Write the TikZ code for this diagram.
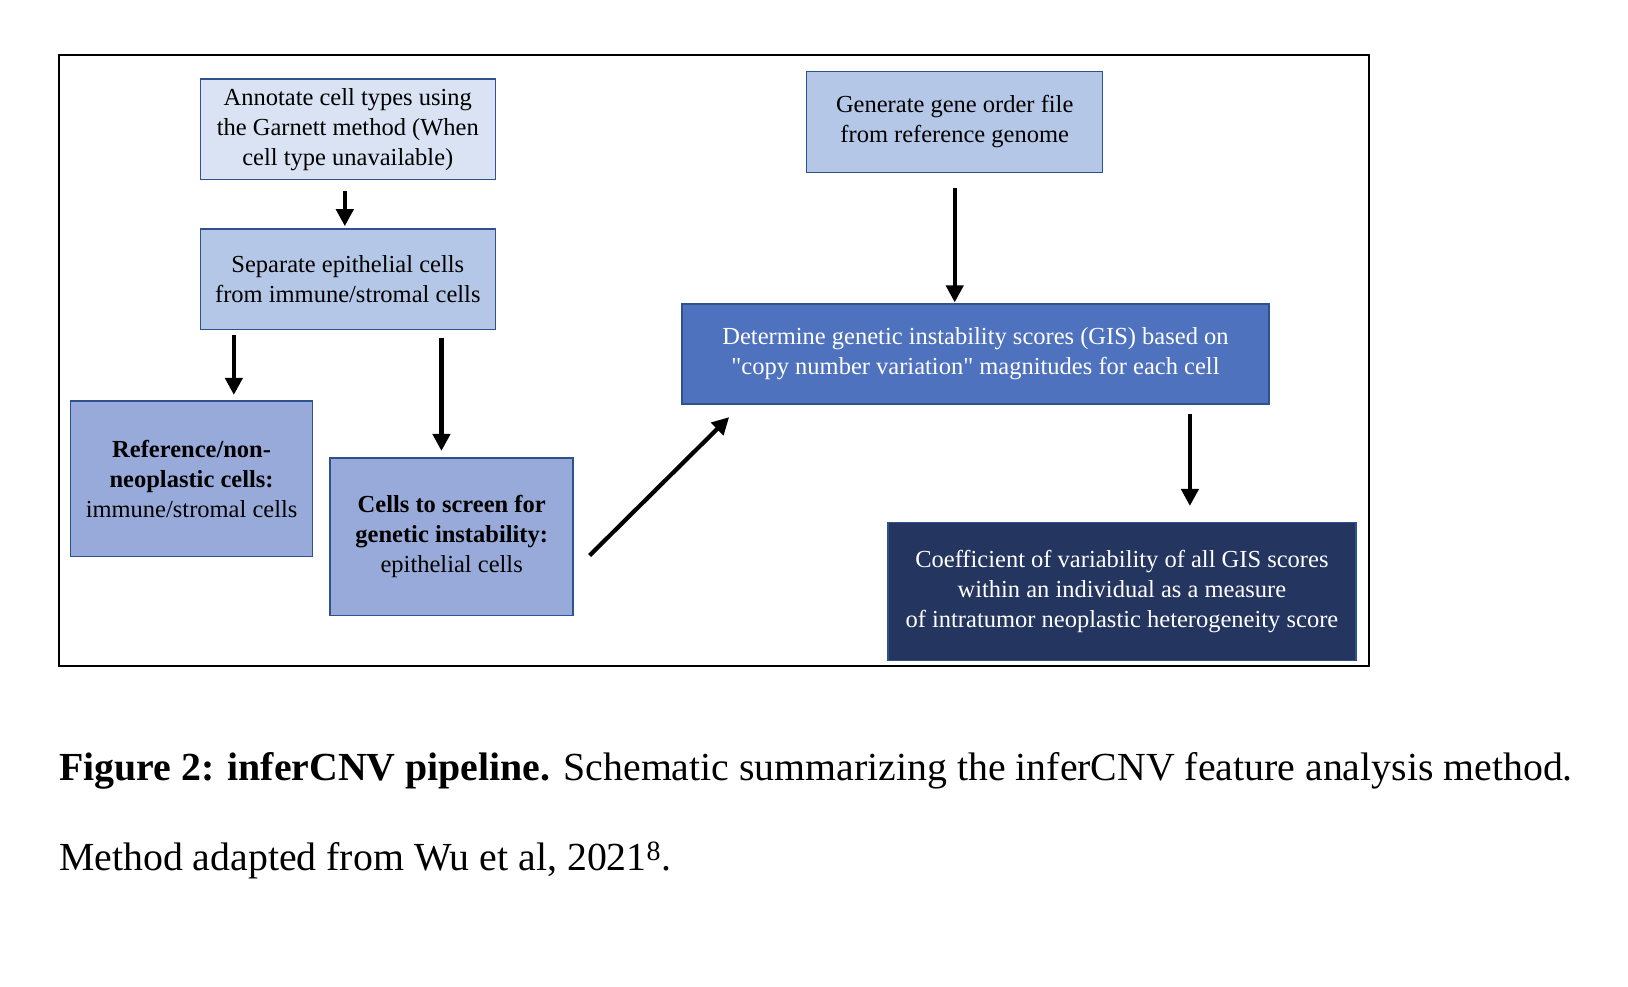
\documentclass[tikz,border=0pt]{standalone}
\usepackage{fontspec}
\setmainfont{Liberation Serif}
\newfontfamily\quotefont{Liberation Serif}[Ligatures=TeXOff]
\definecolor{edge1}{HTML}{2F528F}
\definecolor{tint1}{HTML}{DAE3F3}
\definecolor{tint2}{HTML}{B4C7E7}
\definecolor{tint3}{HTML}{97AAD9}
\definecolor{tint4}{HTML}{4F72BF}
\definecolor{tint5}{HTML}{243560}
\usetikzlibrary{arrows.meta,positioning,calc}
\newcommand{\boxfont}{\fontsize{24.5}{30}\selectfont}
\newcommand{\capfont}{\fontsize{39.8}{48}\selectfont}
\newcommand{\sq}{{\quotefont\char34}}

\begin{document}
\begin{tikzpicture}[x=1pt, y=-1pt,
  box/.style={draw=edge1, line width=1.5pt, align=center, font=\boxfont,
              inner sep=0pt},
  ar/.style ={-{Triangle[length=17pt,width=17pt]}, line width=4.2pt, black},
]
  \useasboundingbox (0,0) rectangle (1628,986);

  % ---- outer frame ----
  \draw[line width=2pt] (59.2,55) rectangle (1368.5,665.5);

  % ---- left column: annotation and split ----
  \node[box, fill=tint1, minimum width=295pt, minimum height=100.7pt] (ann)
    at (347.8,129.3) {Annotate cell types using\\the Garnett method (When\\cell type unavailable)};
  \node[box, fill=tint2, minimum width=295pt, minimum height=100.7pt,
        below=47.8pt of ann] (sep) {Separate epithelial cells\\from immune/stromal cells};
  \node[box, fill=tint3, minimum width=242pt, minimum height=155.7pt] (ref)
    at (191.6,478.7) {\textbf{Reference/non-}\\\textbf{neoplastic cells:}\\immune/stromal cells};
  \node[box, fill=tint3, minimum width=243pt, minimum height=157.8pt] (cells)
    at (451.7,536.8) {\textbf{Cells to screen for}\\\textbf{genetic instability:}\\epithelial cells};

  % ---- right column: scores ----
  \node[box, fill=tint2, minimum width=296pt, minimum height=100.7pt] (gen)
    at (954.7,122) {Generate gene order file\\from reference genome};
  \node[box, fill=tint4, text=white, minimum width=586.6pt, minimum height=99.7pt] (det)
    at (975.5,354) {Determine genetic instability scores (GIS) based on\\\sq copy number variation\sq{} magnitudes for each cell};
  \node[box, fill=tint5, text=white, minimum width=468.3pt, minimum height=138pt] (cv)
    at (1121.9,591.3) {Coefficient of variability of all GIS scores\\within an individual as a measure\\of intratumor neoplastic heterogeneity score};

  % ---- arrows ----
  \draw[ar, shorten <=10.4pt, shorten >=2pt] ([xshift=-3pt]ann.south) -- ([xshift=-3pt]sep.north);
  \draw[ar, shorten <=4.2pt, shorten >=5.2pt] ([xshift=34.3pt]sep.south west)
    -- ([xshift=34.3pt]sep.south west |- ref.north);
  \draw[ar, shorten <=7.3pt, shorten >=6.2pt] ([xshift=241.9pt]sep.south west)
    -- ([xshift=241.9pt]sep.south west |- cells.north);
  \draw[ar] ([shift={(15.6pt,-18.7pt)}]cells.east) -- ([shift={(47.7pt,-12.5pt)}]det.south west);
  \draw[ar, shorten <=14.5pt, shorten >=1pt] (gen.south) -- (gen.south |- det.north);
  \draw[ar, shorten <=9.3pt, shorten >=15.6pt] ([xshift=214.4pt]det.south)
    -- ([xshift=214.4pt]det.south |- cv.north);

  % ---- caption ----
  \node[anchor=base west, font=\capfont, inner sep=0pt] (cap1) at (59,780)
    {\textbf{Figure 2: inferCNV pipeline.} Schematic summarizing the inferCNV feature analysis method.};
  \node[anchor=base west, font=\capfont, inner sep=0pt] (cap2) at (59,870)
    {Method adapted from Wu et al, 2021\textsuperscript{8}.};
\end{tikzpicture}
\end{document}
